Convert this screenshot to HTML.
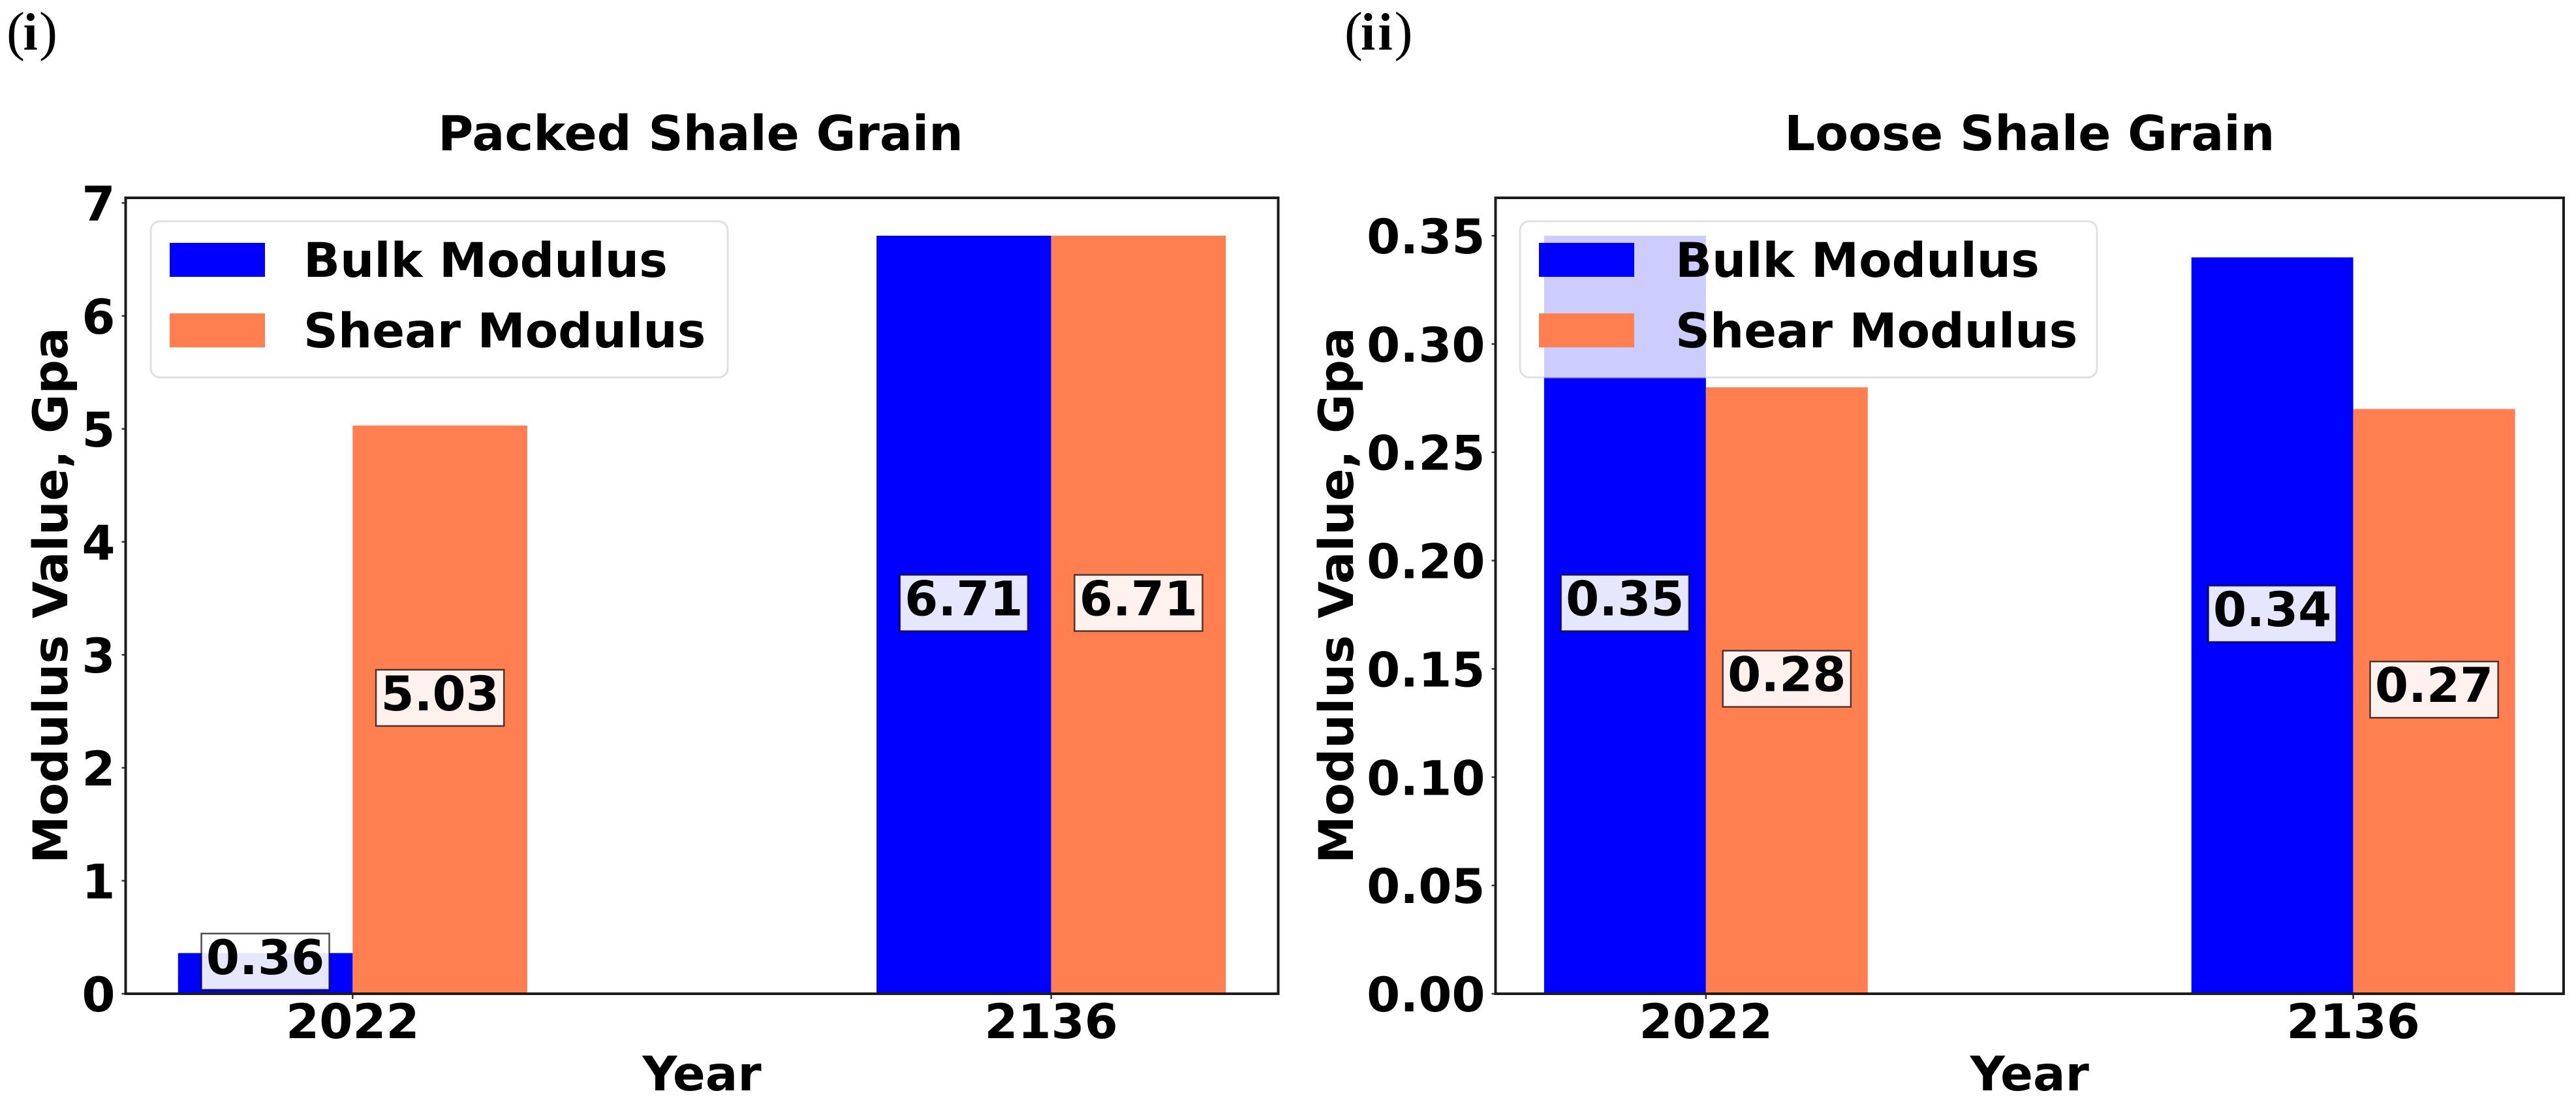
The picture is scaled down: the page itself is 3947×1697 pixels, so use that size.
<!DOCTYPE html>
<html lang="en">
<head>
<meta charset="utf-8">
<title>Packed and Loose Shale Grain Modulus</title>
<style>
html,body{margin:0;padding:0;background:#fff;}
svg{display:block;}
text{font-family:"DejaVu Sans","Liberation Sans",sans-serif;font-weight:700;fill:#000;}
text.panel-tag{font-family:"Liberation Serif",serif;font-weight:400;font-size:84px;}
.panel-tag .bold{font-weight:700;font-size:80px;}
</style>
</head>
<body>
<svg id="figure" xmlns="http://www.w3.org/2000/svg" width="3947" height="1697" viewBox="0 0 3947 1697">
<rect width="3947" height="1697" fill="#ffffff"/>
<text class="panel-tag" y="76"><tspan x="10">(</tspan><tspan class="bold" x="35.5">i</tspan><tspan x="60">)</tspan></text>
<text class="panel-tag" y="76"><tspan x="2060">(</tspan><tspan class="bold" x="2085">i</tspan><tspan class="bold" x="2111.5">i</tspan><tspan x="2136.5">)</tspan></text>
</svg>
<script>
const years = ['2022', '2136'];
const seriesNames = ['Bulk Modulus', 'Shear Modulus'];

const packedBulk = [0.36, 6.71];
const packedShear = [5.03, 6.71];
const packedTicks = [0, 1, 2, 3, 4, 5, 6, 7];
const packedTickLabels = ['0', '1', '2', '3', '4', '5', '6', '7'];
const packedYMax = 7.0455;

const looseBulk = [0.35, 0.34];
const looseShear = [0.28, 0.27];
const looseTicks = [0, 0.05, 0.10, 0.15, 0.20, 0.25, 0.30, 0.35];
const looseTickLabels = ['0.00', '0.05', '0.10', '0.15', '0.20', '0.25', '0.30', '0.35'];
const looseYMax = 0.3675;

const SVG_NS = 'http://www.w3.org/2000/svg';
const root = document.getElementById('figure');
const COLORS = ['#0000ff', '#ff7f50'];
const TOP = 303, BOTTOM = 1522, FONT = 73.5;

function make(tag, parent, props, content) {
  const el = document.createElementNS(SVG_NS, tag);
  for (const k in props) el.setAttribute(k, props[k]);
  if (content !== undefined) el.textContent = content;
  parent.appendChild(el);
  return el;
}

function drawPanel(cfg) {
  const g = make('g', root, {});
  
  

  const barWidth = 0.25;
  const xMin = -0.325, xMax = 1.325;
  const x = v => cfg.left + (v - xMin) / (xMax - xMin) * (cfg.right - cfg.left);
  const y = v => BOTTOM - v / cfg.yMax * (BOTTOM - TOP);
  const series = [cfg.bulk, cfg.shear];
  const midX = (cfg.left + cfg.right) / 2;

  const title = make('text', g, {x: midX + cfg.titleShift, y: 230, 'text-anchor': 'middle', 'font-size': FONT + 0.5}, cfg.title);
  
  

  // bars
  series.forEach((vals, s) => {
    vals.forEach((v, i) => {
      const x0 = x(i + (s === 0 ? -barWidth : 0));
      const x1 = x(i + (s === 0 ? 0 : barWidth));
      const bar = make('rect', g, {x: x0, y: y(v), width: x1 - x0, height: BOTTOM - y(v), fill: COLORS[s]});
      
      
    });
  });

  // y ticks
  cfg.ticks.forEach((t, i) => {
    const tick = make('line', g, {x1: cfg.left - 6, x2: cfg.left, y1: y(t), y2: y(t), stroke: '#333', 'stroke-width': 2.5});
    
    
    const lab = make('text', g, {x: cfg.left - 16, y: y(t) + 27, 'text-anchor': 'end', 'font-size': FONT}, cfg.tickLabels[i]);
    
    
  });

  // x ticks
  years.forEach((yr, i) => {
    const tick = make('line', g, {x1: x(i), x2: x(i), y1: BOTTOM, y2: BOTTOM + 8, stroke: '#333', 'stroke-width': 2.5});
    
    
    const lab = make('text', g, {x: x(i), y: 1590, 'text-anchor': 'middle', 'font-size': FONT}, yr);
    
    
  });

  // spines
  const frame = make('rect', g, {x: cfg.left, y: TOP, width: cfg.right - cfg.left, height: BOTTOM - TOP, fill: 'none', stroke: '#1c1c1c', 'stroke-width': 4});
  
  

  // axis titles
  const xt = make('text', g, {x: midX, y: 1670, 'text-anchor': 'middle', 'font-size': FONT}, 'Year');
  
  
  const yt = make('text', g, {x: cfg.yTitleX, y: 912, 'text-anchor': 'middle', 'font-size': FONT, transform: 'rotate(-90 ' + cfg.yTitleX + ' 912)'}, 'Modulus Value, Gpa');
  
  

  // value labels
  series.forEach((vals, s) => {
    vals.forEach((v, i) => {
      const cx = x(i + (s === 0 ? -barWidth / 2 : barWidth / 2));
      const cy = y(v / 2) - 18;
      const box = make('rect', g, {x: cx - 98, y: cy - 43, width: 196, height: 86, fill: '#ffffff', 'fill-opacity': 0.9, stroke: '#000', 'stroke-opacity': 0.7, 'stroke-width': 2.5});
      
      
      const lab = make('text', g, {x: cx, y: cy + 19, 'text-anchor': 'middle', 'font-size': FONT}, v.toFixed(2));
      
      
    });
  });

  // legend
  const lg = make('g', g, {});
  
  
  const lbg = make('rect', lg, {x: cfg.legendX, y: 339, width: 884, height: 239, rx: 14, ry: 14, fill: '#ffffff', 'fill-opacity': 0.8, stroke: '#cccccc', 'stroke-opacity': 0.6, 'stroke-width': 3});
  
  
  seriesNames.forEach((name, s) => {
    const sy = s === 0 ? 372 : 480;
    const sw = make('rect', lg, {x: cfg.legendX + 29, y: sy, width: 146, height: 52, fill: COLORS[s]});
    
    
    const tx = make('text', lg, {x: cfg.legendX + cfg.legendTextOffset, y: sy + 52, 'font-size': FONT}, name);
    
    
  });
}

drawPanel({id: 'packed', title: 'Packed Shale Grain', left: 192.5, right: 1958.5, bulk: packedBulk, shear: packedShear, ticks: packedTicks, tickLabels: packedTickLabels, yMax: packedYMax, yTitleX: 103, legendX: 231, legendTextOffset: 234, titleShift: -2});
drawPanel({id: 'loose', title: 'Loose Shale Grain', left: 2291.5, right: 3928, bulk: looseBulk, shear: looseShear, ticks: looseTicks, tickLabels: looseTickLabels, yMax: looseYMax, yTitleX: 2073, legendX: 2329, legendTextOffset: 238, titleShift: 0});
</script>
</body>
</html>
